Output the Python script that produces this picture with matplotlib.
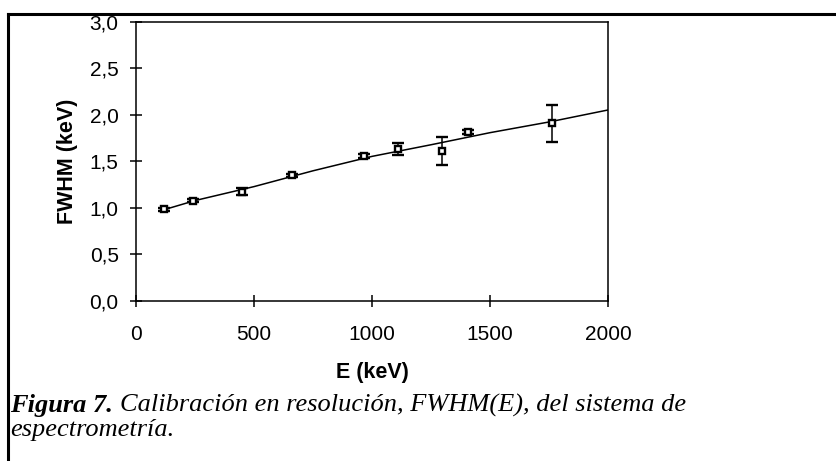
import matplotlib
matplotlib.use("Agg")
import matplotlib.pyplot as plt
from matplotlib.lines import Line2D
from matplotlib.ticker import FuncFormatter

# measured points (E in keV, FWHM in keV, error)
energy = [119, 243, 449, 661, 965, 1111, 1298, 1407, 1761]
fwhm = [0.986, 1.078, 1.175, 1.352, 1.56, 1.634, 1.616, 1.814, 1.91]
fwhm_err = [0.015, 0.015, 0.04, 0.015, 0.02, 0.068, 0.15, 0.02, 0.2]

# fitted calibration curve
fit_e = [110, 250, 500, 750, 1000, 1250, 1500, 1750, 2000]
fit_fwhm = [0.975, 1.08, 1.23, 1.40, 1.555, 1.68, 1.81, 1.925, 2.054]

xticks = [0, 500, 1000, 1500, 2000]
yticks = [0.0, 0.5, 1.0, 1.5, 2.0, 2.5, 3.0]

fig = plt.figure(figsize=(8.37, 4.61), dpi=100)
ax = fig.add_axes([136 / 837, 1 - 301 / 461, (608 - 136) / 837, (301 - 22) / 461])

ax.plot(fit_e, fit_fwhm, color="black", lw=1.1)
ax.errorbar(energy, fwhm, yerr=fwhm_err, fmt="s", ms=4.2, mfc="white", mec="black",
            mew=1.7, ecolor="black", elinewidth=1.1, capsize=4, capthick=1.1)

ax.set_xlim(0, 2000)
ax.set_ylim(0, 3.0)
ax.set_xticks(xticks)
ax.set_yticks(yticks)
ax.yaxis.set_major_formatter(FuncFormatter(lambda v, p: f"{v:.1f}".replace(".", ",")))
for s in ax.spines.values():
    s.set_linewidth(1.1)
ax.tick_params(direction="inout", length=9, width=1.1, labelsize=15)
ax.tick_params(axis="x", pad=13)
ax.tick_params(axis="y", pad=8)
for lab in ax.get_xticklabels() + ax.get_yticklabels():
    lab.set_family("Liberation Sans")

ax.set_xlabel("E (keV)", fontsize=15.5, fontweight="bold", family="Liberation Sans", labelpad=13)
ax.set_ylabel("FWHM (keV)", fontsize=15.5, fontweight="bold", family="Liberation Sans", labelpad=8)

# outer frame of the figure box
fig.add_artist(Line2D([8 / 837, 1], [1 - 14 / 461, 1 - 14 / 461], color="black", lw=2.2,
                      transform=fig.transFigure))
fig.add_artist(Line2D([8 / 837, 8 / 837], [0, 1 - 14 / 461], color="black", lw=2.2,
                      transform=fig.transFigure))

# caption
y1 = 1 - 412 / 461
t = fig.text(10 / 837, y1, "Figura 7.", fontsize=19, fontweight="bold", style="italic",
             family="Liberation Serif", va="baseline")
fig.canvas.draw()
bb = t.get_window_extent()
fig.text(bb.x1 / 837 + 7 / 837, y1, "Calibración en resolución, FWHM(E), del sistema de",
         fontsize=19, style="italic", family="Liberation Serif", va="baseline")
fig.text(10 / 837, 1 - 436 / 461, "espectrometría.", fontsize=19, style="italic",
         family="Liberation Serif", va="baseline")

fig.savefig("out.png", dpi=100)
